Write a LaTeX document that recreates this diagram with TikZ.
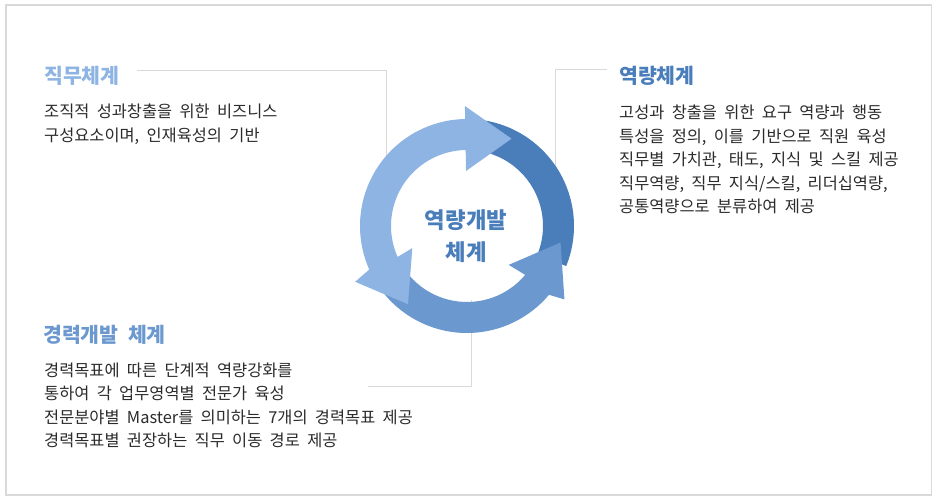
\documentclass[tikz,border=0pt]{standalone}
\usepackage{fontspec}
\setmainfont{Noto Sans CJK KR}[WordSpace=2.0]
\usepackage{xcolor}
\usetikzlibrary{calc}
\definecolor{lightblue}{HTML}{8DB4E2}
\definecolor{midblue}{HTML}{6A98CF}
\definecolor{darkblue}{HTML}{4A7EBB}
\definecolor{linegray}{HTML}{D9D9D9}
\definecolor{ink}{HTML}{2B2B2B}

\begin{document}
\begin{tikzpicture}[x=1pt, y=1pt,
  title/.style={anchor=base west, inner sep=0pt, font=\fontsize{20.5}{24}\selectfont\bfseries},
  body/.style={anchor=base west, inner sep=0pt, align=left, text=ink,
               font=\fontsize{16.4}{23.4}\selectfont},
  hub/.style={align=center, inner sep=0pt, text=darkblue,
              font=\fontsize{22.3}{32}\selectfont\bfseries},
  conn/.style={draw=linegray, line width=1pt}
]
\useasboundingbox (0,0) rectangle (936,-500);
\draw[linegray, line width=1.3pt] (6,-5) rectangle (931.5,-495);

% text blocks (base = last line)
\node[title, text=lightblue] (jikmu) at (44,-83.5) {직무체계};
\node[body] (jikmuText) at (44,-141.2) {조직적 성과창출을 위한 비즈니스\\구성요소이며, 인재육성의 기반};
\node[title, text=darkblue] (yeokryang) at (619,-83.2) {역량체계};
\node[body] (yeokryangText) at (619,-212.4) {고성과 창출을 위한 요구 역량과 행동\\특성을 정의, 이를 기반으로 직원 육성\\직무별 가치관, 태도, 지식 및 스킬 제공\\직무역량, 직무 지식/스킬, 리더십역량,\\공통역량으로 분류하여 제공};
\node[title, text=midblue] (gyeongryeok) at (43,-342.2) {경력개발 체계};
\node[body] (gyeongryeokText) at (44,-446.6) {경력목표에 따른 단계적 역량강화를\\통하여 각 업무영역별 전문가 육성\\전문분야별 Master를 의미하는 7개의 경력목표 제공\\경력목표별 권장하는 직무 이동 경로 제공};

% leader lines (ring covers their ends)
\coordinate (jkFoot) at (386,-170);
\coordinate (yrFoot) at (555,-170);
\coordinate (gyStart) at (368,-386.7);
\coordinate (gyFoot) at (471.7,-300);
\draw[conn] ([xshift=17pt]jikmu.east |- 0,-70.7) -| (jkFoot);
\draw[conn] ([xshift=-12pt]yeokryang.west |- 0,-69.3) -| (yrFoot);
\draw[conn] (gyStart) -| (gyFoot);

% cycle
\coordinate (c) at (467,-226);
\fill[darkblue] ($(c)+(85:107pt)$) arc[start angle=85, end angle=-22, radius=107pt]
  -- ($(c)+(-22:76pt)$) arc[start angle=-22, end angle=85, radius=76pt] -- cycle;
\fill[midblue] ($(c)+(212:107pt)$) arc[start angle=212, end angle=320, radius=107pt]
  -- ($(c)+(323:122pt)$) -- ($(c)+(350:95pt)$) -- ($(c)+(317:57pt)$)
  -- ($(c)+(320:76pt)$) arc[start angle=320, end angle=212, radius=76pt] -- cycle;
\fill[lightblue] ($(c)+(91:76pt)$) -- ($(c)+(91:55pt)$) -- ($(c)+(63:98pt)$)
  -- ($(c)+(91:120pt)$) -- ($(c)+(91:107pt)$) arc[start angle=91, end angle=204, radius=107pt]
  -- ($(c)+(206.5:125pt)$) -- ($(c)+(233:98pt)$) -- ($(c)+(202:59pt)$)
  -- ($(c)+(204:76pt)$) arc[start angle=204, end angle=91, radius=76pt] -- cycle;

\node[hub] (hub) at (466,-236) {역량개발\\체계};
\end{tikzpicture}
\end{document}
